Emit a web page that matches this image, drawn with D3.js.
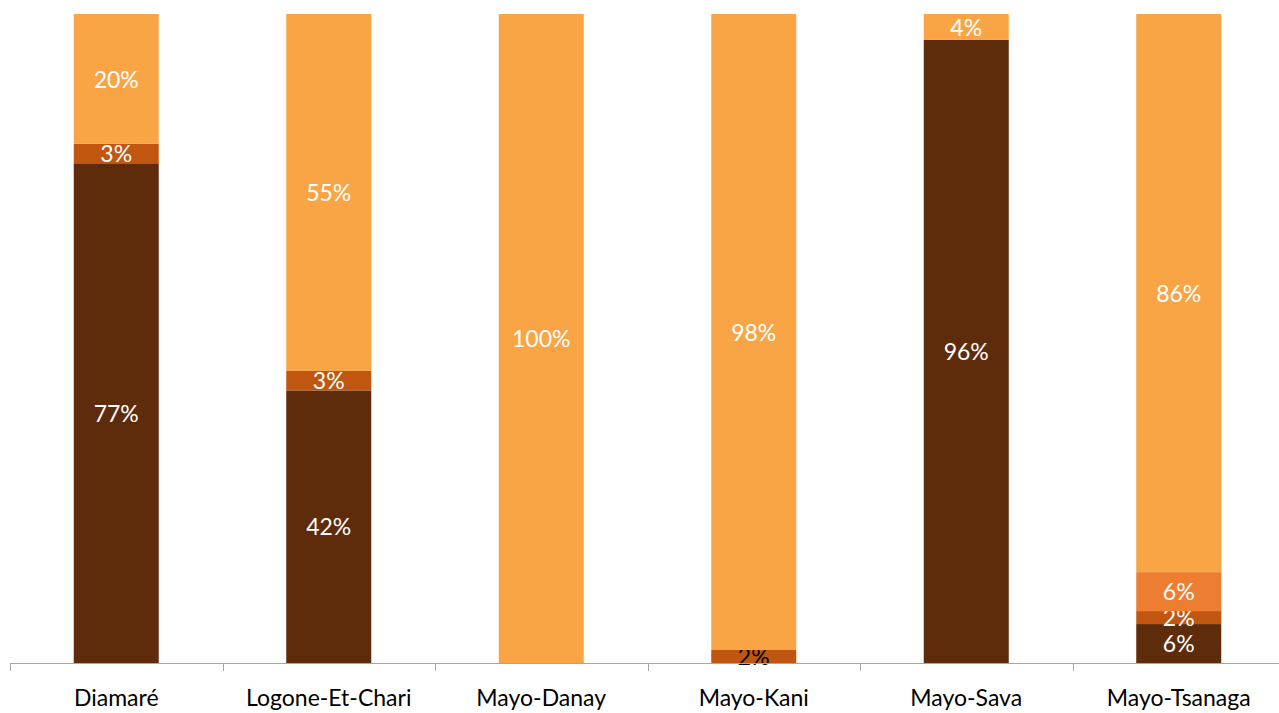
<!DOCTYPE html>
<html>
<head>
<meta charset="utf-8">
<script src="https://cdn.jsdelivr.net/npm/d3@7"></script>
<style>
  body { margin: 0; background: #fff; }
  svg { display: block; font-family: Lato, "Open Sans", sans-serif; }
</style>
</head>
<body>
<script>
var categories = ["Diamaré", "Logone-Et-Chari", "Mayo-Danay", "Mayo-Kani", "Mayo-Sava", "Mayo-Tsanaga"];
var seriesNames = ["s1", "s2", "s3", "s4"];
var s1 = [77, 42, 0, 0, 96, 6];
var s2 = [3, 3, 0, 2, 0, 2];
var s3 = [0, 0, 0, 0, 0, 6];
var s4 = [20, 55, 100, 98, 4, 86];
var colors = ["#5e2c0a", "#c0560f", "#ed7d31", "#f9a546"];
// labels drawn in dark text instead of white
var darkLabels = ["Mayo-Kani|s2"];

var width = 1279, height = 713;
var margin = {top: 14, left: 10, bottom: 50};
var step = 212.5;

var rows = categories.map(function (c, i) {
  return {cat: c, s1: s1[i], s2: s2[i], s3: s3[i], s4: s4[i]};
});
var stack = d3.stack().keys(seriesNames)(rows);

var svg = d3.select("body").append("svg")
  .attr("width", width)
  .attr("height", height);

var x = d3.scaleBand()
  .domain(categories)
  .range([margin.left, margin.left + step * categories.length])
  .paddingInner(0.6)
  .paddingOuter(0.3);

var y = d3.scaleLinear()
  .domain([0, 100])
  .range([height - margin.bottom, margin.top]);

var layers = svg.selectAll("g.layer")
  .data(stack)
  .enter()
  .append("g")
  .attr("class", "layer")
  .attr("fill", function (d, i) { return colors[i]; });

layers.selectAll("rect")
  .data(function (d) { return d.filter(function (p) { return p[1] - p[0] > 0; }); })
  .enter()
  .append("rect")
  .attr("x", function (d) { return x(d.data.cat); })
  .attr("y", function (d) { return y(d[1]); })
  .attr("width", x.bandwidth())
  .attr("height", function (d) { return y(d[0]) - y(d[1]); });

layers.selectAll("text")
  .data(function (d) {
    return d.filter(function (p) { return p[1] - p[0] > 0; })
      .map(function (p) { p.key = d.key; return p; });
  })
  .enter()
  .append("text")
  .attr("x", function (d) { return x(d.data.cat) + x.bandwidth() / 2; })
  .attr("y", function (d) { return (y(d[0]) + y(d[1])) / 2; })
  .attr("dy", "0.38em")
  .attr("text-anchor", "middle")
  .attr("font-size", 23)
  .attr("fill", function (d) {
    return darkLabels.indexOf(d.data.cat + "|" + d.key) >= 0 ? "#000" : "#fff";
  })
  .text(function (d) { return (d[1] - d[0]) + "%"; });

// category axis
var axisY = y(0);
svg.append("line")
  .attr("x1", margin.left).attr("x2", width)
  .attr("y1", axisY + 0.5).attr("y2", axisY + 0.5)
  .attr("stroke", "#a6a6a6").attr("stroke-width", 1);

svg.selectAll("line.tick")
  .data(categories)
  .enter()
  .append("line")
  .attr("class", "tick")
  .attr("x1", function (d) { return Math.round(x(d) - x.step() * x.paddingInner() / 2) + 0.5; })
  .attr("x2", function (d) { return Math.round(x(d) - x.step() * x.paddingInner() / 2) + 0.5; })
  .attr("y1", axisY)
  .attr("y2", axisY + 8)
  .attr("stroke", "#a6a6a6");

svg.selectAll("text.cat")
  .data(categories)
  .enter()
  .append("text")
  .attr("class", "cat")
  .attr("x", function (d) { return x(d) + x.bandwidth() / 2; })
  .attr("y", axisY + 43)
  .attr("text-anchor", "middle")
  .attr("font-size", 23)
  .attr("fill", "#000")
  .text(function (d) { return d; });
</script>
</body>
</html>
